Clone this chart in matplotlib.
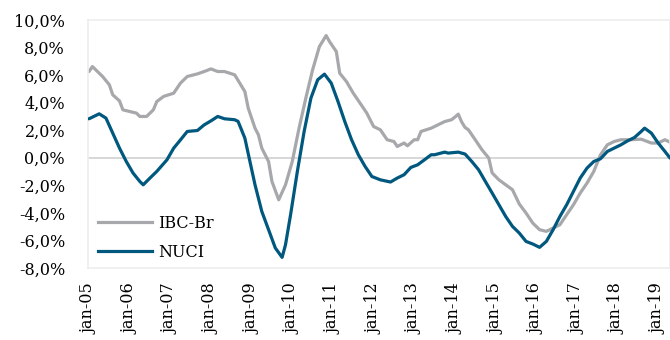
import matplotlib
matplotlib.use("Agg")
import matplotlib.pyplot as plt
from matplotlib.lines import Line2D

# Month index: 0 = jan-05
ibc_months = [0, 1, 3, 4, 6, 7, 9, 10, 12, 14,
              15, 17, 19, 20, 22, 25, 27, 29, 32, 34,
              36, 38, 40, 43, 46, 47, 49, 50, 51, 53,
              54, 56, 58, 60, 62, 64, 66, 68, 70, 71,
              73, 74, 76, 78, 80, 82, 84, 86, 88, 90,
              91, 93, 94, 96, 97, 98, 101, 103, 105, 107,
              108, 109, 110, 111, 112, 114, 116, 118, 119, 121,
              123, 125, 127, 129, 131, 133, 135, 137, 139, 141,
              143, 145, 147, 149, 151, 153, 155, 157, 160, 163,
              166, 168, 170, 172]
ibc_vals = [6.26, 6.62, 6.14, 5.9, 5.3, 4.57, 4.13, 3.48, 3.36, 3.24,
            3.0, 3.0, 3.48, 4.08, 4.45, 4.69, 5.42, 5.9, 6.09, 6.26,
            6.45, 6.26, 6.26, 6.02, 4.81, 3.6, 2.15, 1.67, 0.7, -0.27,
            -1.72, -3.05, -1.96, -0.27, 2.15, 4.33, 6.38, 8.07, 8.87, 8.43,
            7.71, 6.14, 5.53, 4.69, 3.97, 3.24, 2.27, 2.03, 1.31, 1.18,
            0.82, 1.07, 0.87, 1.31, 1.31, 1.91, 2.15, 2.39, 2.63, 2.76,
            2.95, 3.17, 2.6, 2.2, 2.03, 1.31, 0.58, -0.02, -1.1, -1.6,
            -1.96, -2.32, -3.35, -4.01, -4.74, -5.22, -5.34, -5.1, -4.86, -4.13,
            -3.41, -2.56, -1.84, -0.99, 0.22, 0.94, 1.18, 1.31, 1.31, 1.35,
            1.07, 1.07, 1.31, 1.07]

nuci_months = [0, 3, 5, 7, 9, 11, 13, 15, 16, 18,
               20, 23, 25, 27, 29, 32, 34, 36, 38, 40,
               43, 44, 46, 47.5, 49, 51, 53, 55, 57, 58,
               59.5, 61.5, 63.5, 65.5, 67.5, 69.5, 71.5, 73.5, 75.5, 77.5,
               79.5, 81.5, 83.5, 86, 89, 91, 93, 95, 97, 99,
               101, 102, 105, 106, 109, 111, 113, 115, 117, 119,
               121, 123, 125, 127, 129, 131, 133, 135, 137, 139,
               141, 143, 145, 147, 149, 151, 153, 155, 157, 159,
               161, 163, 164, 166, 168, 170, 171.5]
nuci_vals = [2.83, 3.19, 2.88, 1.79, 0.7, -0.27, -1.11, -1.72, -1.96, -1.47,
             -0.99, -0.15, 0.7, 1.3, 1.91, 1.98, 2.39, 2.68, 3.0, 2.83,
             2.76, 2.64, 1.43, -0.27, -1.96, -3.89, -5.22, -6.55, -7.23, -6.31,
             -4.13, -0.99, 1.91, 4.33, 5.66, 6.07, 5.42, 4.08, 2.63, 1.31,
             0.22, -0.63, -1.36, -1.6, -1.76, -1.47, -1.23, -0.7, -0.51, -0.15,
             0.22, 0.22, 0.41, 0.34, 0.41, 0.27, -0.27, -0.87, -1.72, -2.56,
             -3.41, -4.26, -4.98, -5.46, -6.07, -6.26, -6.5, -6.07, -5.22, -4.26,
             -3.41, -2.44, -1.47, -0.75, -0.27, -0.07, 0.46, 0.7, 0.94, 1.23,
             1.47, 1.91, 2.15, 1.79, 1.07, 0.46, -0.02]

tick_months = list(range(0, 169, 12))
tick_labels = ["jan-05", "jan-06", "jan-07", "jan-08", "jan-09", "jan-10", "jan-11", "jan-12",
               "jan-13", "jan-14", "jan-15", "jan-16", "jan-17", "jan-18", "jan-19"]
y_ticks = [-8, -6, -4, -2, 0, 2, 4, 6, 8, 10]

GREY = "#A6A8AB"
BLUE = "#00587F"
FS = 11.5

plt.rcParams['font.family'] = ['DejaVu Serif']

fig = plt.figure(figsize=(6.7, 3.4), dpi=100)
ax = fig.add_axes([88 / 670, 1 - 268 / 340, 582 / 670, 248 / 340])

ax.axhline(0, color="#D4D4D4", lw=1.3, zorder=1)
ax.plot(ibc_months, ibc_vals, color=GREY, lw=2.3, solid_joinstyle="round",
        solid_capstyle="round", zorder=2)
ax.plot(nuci_months, nuci_vals, color=BLUE, lw=2.3, solid_joinstyle="round",
        solid_capstyle="round", zorder=3)

ax.set_xlim(-0.3, 171.5)
ax.set_ylim(-8, 10)
ax.set_yticks(y_ticks)
ax.set_yticklabels([f"{v:.1f}%".replace(".", ",") for v in y_ticks], fontsize=FS)
ax.set_xticks(tick_months)
ax.set_xticklabels(tick_labels, rotation=90, fontsize=FS, va="top")
ax.tick_params(axis="both", length=0)
ax.tick_params(axis="y", pad=16.5)
ax.tick_params(axis="x", pad=11)

for s in ax.spines.values():
    s.set_color("#EDEDED")
    s.set_linewidth(1.2)

handles = [Line2D([], [], color=GREY, lw=2.3), Line2D([], [], color=BLUE, lw=2.3)]
ax.legend(handles, ["IBC-Br", "NUCI"], loc="lower left", bbox_to_anchor=(0.017, 0.03),
          frameon=False, fontsize=FS, handlelength=3.4, handletextpad=0.4,
          labelspacing=0.75, borderpad=0, borderaxespad=0)

fig.savefig("out.png", dpi=100)
